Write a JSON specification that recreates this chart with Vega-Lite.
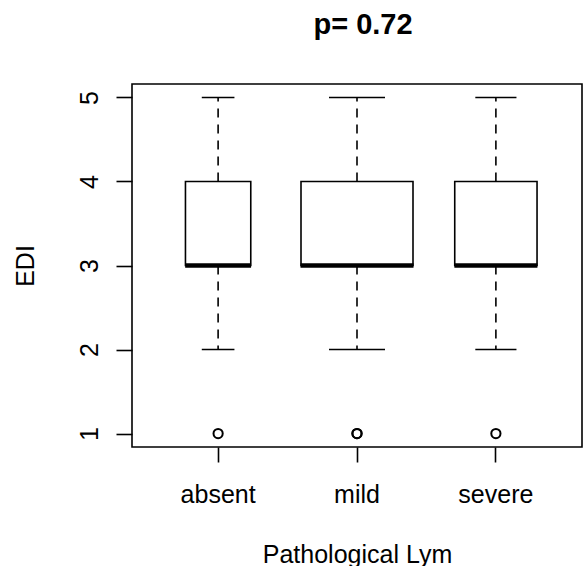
{
  "$schema": "https://vega.github.io/schema/vega-lite/v6.json",
  "autosize": "none",
  "width": 450,
  "height": 363,
  "padding": {"left": 132, "top": 84, "right": 4, "bottom": 119},
  "background": "white",
  "config": {
    "view": {"stroke": "black", "strokeWidth": 1.6},
    "font": "Liberation Sans",
    "axis": {"grid": false, "domain": false}
  },
  "title": {
    "text": "p= 0.72",
    "anchor": "middle",
    "baseline": "alphabetic",
    "offset": 21,
    "dx": 6,
    "fontSize": 29,
    "fontWeight": "bold",
    "font": "Liberation Sans",
    "color": "black"
  },
  "datasets": {
    "boxes": [
      {"group": "absent", "n": 17, "q1": 3, "med": 3, "q3": 4, "wlo": 2, "whi": 5},
      {"group": "mild", "n": 50, "q1": 3, "med": 3, "q3": 4, "wlo": 2, "whi": 5},
      {"group": "severe", "n": 27, "q1": 3, "med": 3, "q3": 4, "wlo": 2, "whi": 5}
    ],
    "outliers": [
      {"group": "absent", "EDI": 1},
      {"group": "mild", "EDI": 1},
      {"group": "mild", "EDI": 1},
      {"group": "severe", "EDI": 1}
    ]
  },
  "encoding": {
    "x": {
      "field": "group",
      "type": "nominal",
      "sort": ["absent", "mild", "severe"],
      "scale": {"type": "band", "paddingInner": 0, "paddingOuter": 0.12},
      "axis": {
        "title": "Pathological Lym",
        "labelAngle": 0,
        "labelFontSize": 25,
        "labelColor": "black",
        "labelBaseline": "alphabetic",
        "labelAlign": "center",
        "labelPadding": 40,
        "tickSize": 15,
        "tickWidth": 1.6,
        "tickColor": "black",
        "titleFontSize": 25,
        "titleFontWeight": "normal",
        "titleColor": "black",
        "titleBaseline": "alphabetic",
        "titleY": 115,
        "titleX": 225
      }
    }
  },
  "layer": [
    {
      "data": {"name": "boxes"},
      "mark": {"type": "bar", "fill": "white", "stroke": "black", "strokeWidth": 1.6},
      "encoding": {
        "y": {
          "field": "q1",
          "type": "quantitative",
          "scale": {"domain": [0.84, 5.16], "nice": false, "zero": false},
          "axis": {
            "title": "EDI",
            "values": [1, 2, 3, 4, 5],
            "format": "d",
            "labelAngle": 270,
            "labelAlign": "center",
            "labelBaseline": "alphabetic",
            "labelFontSize": 25,
            "labelColor": "black",
            "labelPadding": 19,
            "tickSize": 16,
            "tickWidth": 1.6,
            "tickColor": "black",
            "titleFontSize": 25,
            "titleFontWeight": "normal",
            "titleColor": "black",
            "titleAngle": 270,
            "titleAlign": "center",
            "titleBaseline": "alphabetic",
            "titleX": -99,
            "titleY": 181.5
          }
        },
        "y2": {"field": "q3"},
        "size": {
          "field": "n",
          "type": "quantitative",
          "scale": {"type": "sqrt", "domain": [0, 50], "range": [0, 112]},
          "legend": null
        }
      }
    },
    {
      "data": {"name": "boxes"},
      "mark": {"type": "rule", "color": "black", "strokeWidth": 1.6, "strokeDash": [9, 7]},
      "encoding": {
        "y": {"field": "q3", "type": "quantitative"},
        "y2": {"field": "whi"}
      }
    },
    {
      "data": {"name": "boxes"},
      "mark": {"type": "rule", "color": "black", "strokeWidth": 1.6, "strokeDash": [9, 7]},
      "encoding": {
        "y": {"field": "q1", "type": "quantitative"},
        "y2": {"field": "wlo"}
      }
    },
    {
      "data": {"name": "boxes"},
      "mark": {"type": "tick", "color": "black", "thickness": 1.6, "opacity": 1, "orient": "horizontal"},
      "encoding": {
        "y": {"field": "whi", "type": "quantitative"},
        "size": {
          "field": "n",
          "type": "quantitative",
          "scale": {"type": "sqrt", "domain": [0, 50], "range": [0, 56]},
          "legend": null
        }
      }
    },
    {
      "data": {"name": "boxes"},
      "mark": {"type": "tick", "color": "black", "thickness": 1.6, "opacity": 1, "orient": "horizontal"},
      "encoding": {
        "y": {"field": "wlo", "type": "quantitative"},
        "size": {
          "field": "n",
          "type": "quantitative",
          "scale": {"type": "sqrt", "domain": [0, 50], "range": [0, 56]},
          "legend": null
        }
      }
    },
    {
      "data": {"name": "boxes"},
      "mark": {"type": "tick", "color": "black", "thickness": 4.5, "opacity": 1, "orient": "horizontal"},
      "encoding": {
        "y": {"field": "med", "type": "quantitative"},
        "size": {
          "field": "n",
          "type": "quantitative",
          "scale": {"type": "sqrt", "domain": [0, 50], "range": [0, 113]},
          "legend": null
        }
      }
    },
    {
      "data": {"name": "outliers"},
      "mark": {"type": "point", "shape": "circle", "filled": false, "color": "black", "strokeWidth": 2, "size": 85, "opacity": 1},
      "encoding": {
        "y": {"field": "EDI", "type": "quantitative"}
      }
    }
  ],
  "resolve": {"scale": {"size": "independent"}}
}
